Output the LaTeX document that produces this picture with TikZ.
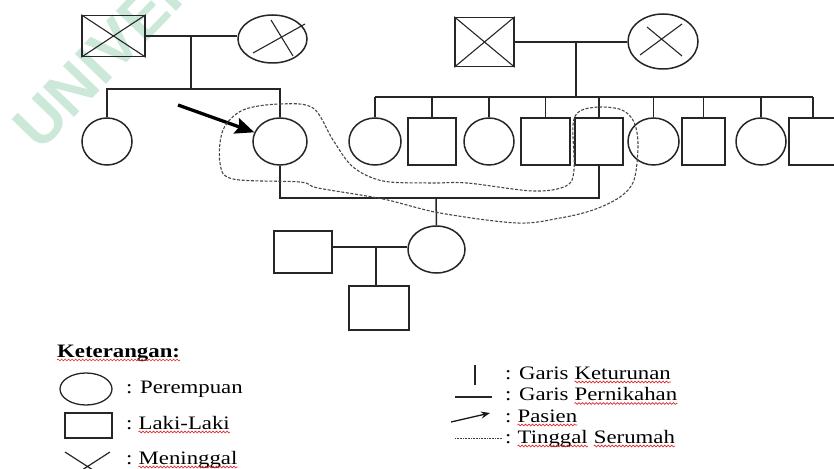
\documentclass[tikz,border=0pt]{standalone}
\usepackage{fontspec}
\setmainfont{Liberation Serif}[FakeStretch=1.2]
\newfontfamily\wmfont{Liberation Sans}
\usetikzlibrary{shapes.geometric,arrows.meta,decorations.pathmorphing}
\definecolor{wmgreen}{RGB}{204,232,217}
\definecolor{wavered}{RGB}{225,40,40}
\newcommand\lgfont{\fontsize{19}{22}\selectfont}
\newlength\spw
\tikzset{
  ln/.style={line width=1.5pt, black!85},
  xln/.style={line width=1.1pt, black!85},
  fem/.style={ellipse, draw, line width=1.5pt, black!85, inner sep=0pt, minimum width=#1, minimum height=47pt},
  fem/.default=50pt,
  mal/.style={rectangle, draw, line width=1.5pt, black!85, inner sep=0pt, minimum width=#1, minimum height=47pt},
  mal/.default=48pt,
  lbl/.style={anchor=base west, inner sep=0pt, font=\lgfont, text=black},
  wavy/.style={wavered, line width=0.6pt, decorate, decoration={snake, amplitude=0.9pt, segment length=3.5pt}},
  home/.style={black!72, line width=1.1pt, dash pattern=on 3pt off 1.6pt},
}
\begin{document}
\settowidth{\spw}{\lgfont\ }
\begin{tikzpicture}[x=1pt,y=-1pt]
\useasboundingbox (0,0) rectangle (834,468);
% watermark
\begin{scope}
  \clip (0,0) rectangle (834,468);
  \node[rotate=46, anchor=base west, inner sep=0pt, text=wmgreen,
        font=\wmfont\bfseries\fontsize{63}{63}\selectfont] (wm) at (40,153) {UNIVERSITAS};
\end{scope}

% ---------- generation I, left
\node[mal, minimum width=63pt, minimum height=41pt] (gf1) at (113.5,36) {};
\node[fem=69pt, minimum height=48pt] (gm1) at (272.5,39) {};
\draw[xln] (gf1.north west) -- (gf1.south east) (gf1.north east) -- (gf1.south west);
\draw[xln] (253,53) -- (305,24) (271,20) -- (293,56);
\coordinate (m1) at (191,36);
\coordinate (b1) at (191,89);
\draw[ln] (gf1.east) -- (gf1.east -| gm1.west);
\draw[ln] (m1) -- (b1);

% ---------- generation I, right
\node[mal, minimum width=59pt, minimum height=49pt] (gf2) at (484.5,42) {};
\node[fem=70pt, minimum height=55pt] (gm2) at (663,41.5) {};
\draw[xln] (gf2.north west) -- (gf2.south east) (gf2.north east) -- (gf2.south west);
\draw[xln] (640,55) -- (682,24) (647,27) -- (682,56);
\coordinate (m2) at (576,42);
\coordinate (b2) at (576,97);
\draw[ln] (gf2.east) -- (gf2.east -| gm2.west);
\draw[ln] (m2) -- (b2);

% ---------- generation II, left
\node[fem=50pt] (c1) at (107,141.5) {};
\node[fem=54pt] (pat) at (280,141.5) {};
\draw[ln] (c1.north) -- (c1.north |- b1) -- (pat.north |- b1) -- (pat.north);

% ---------- generation II, right
\node[fem=52pt] (r1) at (375,141.5) {};
\node[mal=48pt] (r2) at (432,141.5) {};
\node[fem=50pt] (r3) at (489,141.5) {};
\node[mal=49pt] (r4) at (545.5,141.5) {};
\node[mal=48pt] (r5) at (599,141.5) {};
\node[fem=51pt] (r6) at (653.5,141.5) {};
\node[mal=43pt] (r7) at (703.5,141.5) {};
\node[fem=50pt] (r8) at (761,141.5) {};
\node[mal=48pt] (r9) at (813,141.5) {};
\draw[ln] (r1.north |- b2) -- (r9.north |- b2);
\foreach \n in {r1,r2,r3,r4,r5,r6,r7,r8,r9}
  \draw[ln] (\n.north) -- (\n.north |- b2);

% ---------- generation III
\coordinate (cpl) at (436,198);
\draw[ln] (pat.south) -- (pat.south |- cpl) -- (r5.south |- cpl) -- (r5.south);
\node[fem=57pt] (dau) at (436.5,249.5) {};
\draw[ln] (cpl) -- (dau.north);
\node[mal=58pt, minimum height=42pt] (hus) at (303,252) {};
\coordinate (m3) at (376,247);
\draw[ln] (hus.east |- m3) -- (dau.west |- m3);
\node[mal=60pt, minimum height=44pt] (son) at (379,308) {};
\draw[ln] (m3) -- (m3 |- son.north);

% ---------- patient arrow
\coordinate (arrS) at (178,105);
\draw[line width=3.3pt, -{Stealth[length=19pt,width=16pt,inset=3pt]}] (arrS) -- (pat);

% ---------- living together
\draw[home] plot[smooth cycle, tension=0.55] coordinates {
 (243,110) (280,104) (313,108) (333,140) (353,167) (383,181) (430,183)
 (467,183) (533,191) (566,186) (574,170) (573,125) (580,111) (600,107)
 (622,110) (634,122) (638,145) (634,180) (620,197) (593,210) (560,218)
 (517,223) (440,213) (383,199) (318,188) (300,182) (233,179) (220,163)
 (223,130)};

% ---------- legend
\node[lbl, font=\lgfont\bfseries] (ket) at (57,357) {Keterangan:};
\draw[wavy] ([yshift=-3pt]ket.base west) -- ([yshift=-3pt]ket.base east);

\node[ellipse, draw, line width=1.3pt, black!85, minimum width=52pt, minimum height=32pt, inner sep=0pt] (lgF) at (86,389) {};
\node[lbl] (tF) at (126,393) {: Perempuan};

\node[rectangle, draw, line width=1.3pt, black!85, minimum width=47pt, minimum height=25pt, inner sep=0pt] (lgM) at (88.5,425.5) {};
\node[lbl] (tM1) at (126,429) {:};
\node[lbl] (tM2) at ([xshift=\spw]tM1.base east) {Laki-Laki};
\draw[wavy] ([yshift=-3pt]tM2.base west) -- ([yshift=-3pt]tM2.base east);

\coordinate (xA) at (65,452);
\coordinate (xB) at (110,481);
\coordinate (xC) at (65,481);
\coordinate (xD) at (110,452);
\draw[line width=1.2pt, black!85] (xA) -- (xB) (xC) -- (xD);
\node[lbl] (tD1) at (126,464) {:};
\node[lbl] (tD2) at ([xshift=\spw]tD1.base east) {Meninggal};
\draw[wavy] ([yshift=-3pt]tD2.base west) -- ([yshift=-3pt]tD2.base east);

\coordinate (vA) at (475,365);
\coordinate (vB) at (475,385);
\draw[line width=1.3pt, black!85] (vA) -- (vB);
\node[lbl] (tK1) at (505,379) {: Garis};
\node[lbl] (tK2) at ([xshift=\spw]tK1.base east) {Keturunan};
\draw[wavy] ([yshift=-3pt]tK2.base west) -- ([yshift=-3pt]tK2.base east);

\coordinate (hA) at (455,397);
\coordinate (hB) at (492,397);
\draw[line width=1.2pt, black!85] (hA) -- (hB);
\node[lbl] (tP1) at (505,400.5) {: Garis};
\node[lbl] (tP2) at ([xshift=\spw]tP1.base east) {Pernikahan};
\draw[wavy] ([yshift=-3pt]tP2.base west) -- ([yshift=-3pt]tP2.base east);

\coordinate (aA) at (451,422);
\coordinate (aB) at (490,413);
\draw[line width=1.3pt, black!90, -{Stealth[length=9pt,width=7pt]}] (aA) -- (aB);
\node[lbl] (tS1) at (505,422) {:};
\node[lbl] (tS2) at ([xshift=\spw]tS1.base east) {Pasien};
\draw[wavy] ([yshift=-3pt]tS2.base west) -- ([yshift=-3pt]tS2.base east);

\coordinate (dA) at (455,438);
\coordinate (dB) at (503,438);
\draw[line width=0.7pt, black!75, dash pattern=on 1pt off 0.6pt] (dA) -- (dB);
\node[lbl] (tT1) at (505,443) {:};
\node[lbl] (tT2) at ([xshift=\spw]tT1.base east) {Tinggal};
\node[lbl] (tT3) at ([xshift=\spw]tT2.base east) {Serumah};
\draw[wavy] ([yshift=-3pt]tT2.base west) -- ([yshift=-3pt]tT2.base east);
\draw[wavy] ([yshift=-3pt]tT3.base west) -- ([yshift=-3pt]tT3.base east);
\end{tikzpicture}
\end{document}
